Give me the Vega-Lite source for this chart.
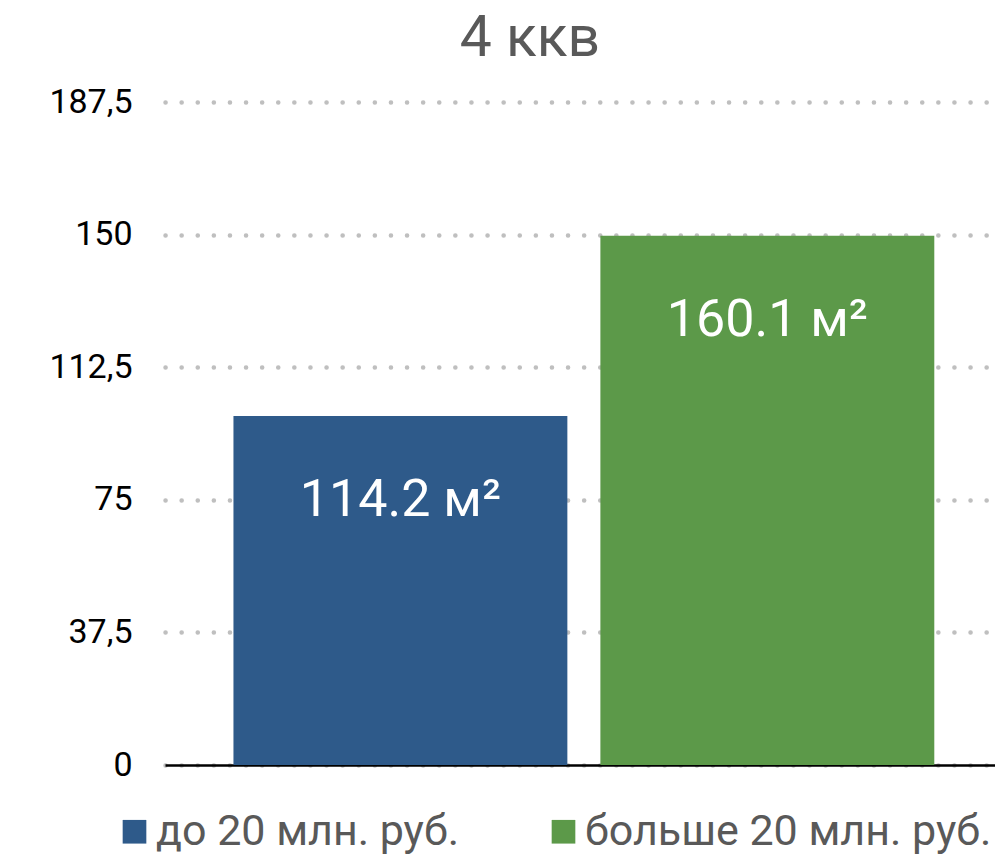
{
  "$schema": "https://vega.github.io/schema/vega-lite/v6.json",
  "autosize": "none",
  "width": 830,
  "height": 663,
  "padding": {"left": 165, "top": 102, "right": 0, "bottom": 93},
  "background": "white",
  "config": {
    "font": "Roboto",
    "view": {"stroke": null}
  },
  "title": {
    "text": "4 ккв",
    "fontSize": 57,
    "fontWeight": "normal",
    "color": "#595959",
    "anchor": "middle",
    "frame": "group",
    "offset": 17,
    "dx": -50
  },
  "data": {
    "values": [
      {"series": "до 20 млн. руб.", "value": 98.7, "label": "114.2 м²"},
      {"series": "больше 20 млн. руб.", "value": 149.7, "label": "160.1 м²"}
    ]
  },
  "encoding": {
    "x": {
      "field": "series",
      "type": "nominal",
      "sort": null,
      "scale": {"paddingInner": 0.09, "paddingOuter": 0.176, "align": 0.53},
      "axis": {
        "title": null,
        "labels": false,
        "ticks": false,
        "domain": true,
        "domainColor": "#000000",
        "domainWidth": 2.5,
        "grid": false
      }
    },
    "y": {
      "field": "value",
      "type": "quantitative",
      "scale": {"domain": [0, 187.5], "nice": false},
      "axis": {
        "title": null,
        "values": [0, 37.5, 75, 112.5, 150, 187.5],
        "labelExpr": "replace(format(datum.value, '.1~f'), '.', ',')",
        "labelFontSize": 34,
        "labelColor": "#000000",
        "labelPadding": 33,
        "domain": false,
        "ticks": false,
        "grid": true,
        "gridColor": "#bfbfbf",
        "gridDash": [0.1, 16],
        "gridCap": "round",
        "gridWidth": 4.5
      }
    }
  },
  "layer": [
    {
      "mark": {"type": "bar"},
      "encoding": {
        "color": {
          "field": "series",
          "type": "nominal",
          "sort": null,
          "scale": {
            "domain": ["до 20 млн. руб.", "больше 20 млн. руб."],
            "range": ["#2E5A8A", "#5C9949"]
          },
          "legend": {
            "title": null,
            "orient": "none",
            "legendX": -52,
            "legendY": 708,
            "direction": "horizontal",
            "symbolType": "square",
            "symbolSize": 560,
            "symbolStrokeWidth": 0,
            "labelFontSize": 43,
            "labelColor": "#595959",
            "labelOffset": 0,
            "columnPadding": 82,
            "labelLimit": 600
          }
        }
      }
    },
    {
      "mark": {"type": "text", "color": "white", "fontSize": 52, "baseline": "middle", "dy": 84},
      "encoding": {"text": {"field": "label"}}
    }
  ]
}
